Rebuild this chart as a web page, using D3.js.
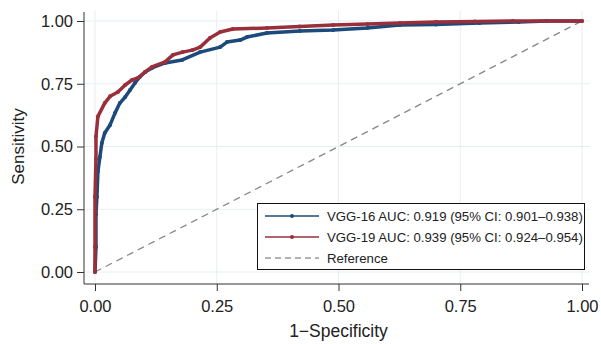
<!DOCTYPE html>
<html>
<head>
<meta charset="utf-8">
<script src="https://cdn.jsdelivr.net/npm/d3@7"></script>
<style>
  body { margin: 0; background: #fff; }
  text { font-family: "Liberation Sans", Arial, Helvetica, sans-serif; }
</style>
</head>
<body>
<div id="chart"></div>
<script>
const blue = '#1b4a7b'
const red = '#9a2f3c'

const ticks = [0, 0.25, 0.5, 0.75, 1]

const fpr16 = [0, 0.002, 0.002, 0.004, 0.006, 0.010, 0.014, 0.020, 0.031, 0.041, 0.051, 0.062, 0.072, 0.082, 0.092, 0.103, 0.117, 0.144, 0.179, 0.216, 0.257, 0.271, 0.298, 0.312, 0.353, 0.421, 0.489, 0.559, 0.626, 0.700, 0.790, 0.870, 0.928, 1]
const tpr16 = [0, 0.10, 0.23, 0.30, 0.40, 0.458, 0.514, 0.554, 0.586, 0.633, 0.673, 0.697, 0.725, 0.753, 0.777, 0.797, 0.813, 0.833, 0.845, 0.876, 0.896, 0.916, 0.924, 0.936, 0.952, 0.960, 0.964, 0.972, 0.984, 0.986, 0.992, 0.996, 1.0, 1]

const fpr19 = [0, 0, 0, 0.002, 0.002, 0.006, 0.020, 0.031, 0.047, 0.062, 0.076, 0.088, 0.103, 0.117, 0.144, 0.160, 0.180, 0.200, 0.216, 0.236, 0.257, 0.283, 0.353, 0.420, 0.489, 0.560, 0.626, 0.700, 0.780, 0.858, 1]
const tpr19 = [0, 0.10, 0.30, 0.45, 0.54, 0.620, 0.673, 0.700, 0.717, 0.745, 0.765, 0.773, 0.797, 0.817, 0.837, 0.865, 0.876, 0.884, 0.896, 0.932, 0.956, 0.968, 0.972, 0.978, 0.984, 0.988, 0.992, 0.996, 0.998, 1.0, 1]

const legendLabels = [
  'VGG-16 AUC: 0.919 (95% CI: 0.901\u20130.938)',
  'VGG-19 AUC: 0.939 (95% CI: 0.924\u20130.954)',
  'Reference'
]

const series = [
  { fpr: fpr16, tpr: tpr16, color: blue },
  { fpr: fpr19, tpr: tpr19, color: red }
]

const width = 601
const height = 344

const svg = d3.select('#chart').append('svg')
  .attr('width', width)
  .attr('height', height)

const x = d3.scaleLinear().domain([0, 1]).range([95, 582])
const y = d3.scaleLinear().domain([0, 1]).range([272, 21])

const axisX = 84
const axisY = 284

// grid
svg.append('g').selectAll('line.v').data(ticks).join('line')
  .attr('x1', d => x(d)).attr('x2', d => x(d))
  .attr('y1', 11).attr('y2', axisY)
  .attr('stroke', '#e7eef2').attr('stroke-width', 1)
svg.append('g').selectAll('line.h').data(ticks).join('line')
  .attr('y1', d => y(d)).attr('y2', d => y(d))
  .attr('x1', axisX).attr('x2', 590)
  .attr('stroke', '#e7eef2').attr('stroke-width', 1)

const fmt = d3.format('.2f')

const gx = svg.append('g')
  .attr('transform', `translate(0,${axisY})`)
  .call(d3.axisBottom(x).tickValues(ticks).tickFormat(fmt).tickSize(7).tickPadding(9).tickSizeOuter(0))
gx.select('.domain').attr('d', `M${axisX},0H589`)

const gy = svg.append('g')
  .attr('transform', `translate(${axisX},0)`)
  .call(d3.axisLeft(y).tickValues(ticks).tickFormat(fmt).tickSize(7).tickPadding(4).tickSizeOuter(0))
gy.select('.domain').attr('d', `M0,12V${axisY}`)

svg.selectAll('.tick text').attr('font-size', 16.5).attr('fill', '#222')
  .attr('font-family', '"Liberation Sans", Arial, sans-serif')
svg.selectAll('.tick line, .domain').attr('stroke', '#333')

svg.append('text')
  .attr('x', (x(0) + x(1)) / 2).attr('y', 337)
  .attr('text-anchor', 'middle').attr('font-size', 17.5).attr('fill', '#222')
  .text('1\u2212Specificity')

svg.append('text')
  .attr('transform', `translate(24,${(y(0) + y(1)) / 2}) rotate(-90)`)
  .attr('text-anchor', 'middle').attr('font-size', 17).attr('fill', '#222')
  .text('Sensitivity')

// reference diagonal
svg.append('line')
  .attr('x1', x(0)).attr('y1', y(0)).attr('x2', x(1)).attr('y2', y(1))
  .attr('stroke', '#888').attr('stroke-width', 1.3).attr('stroke-dasharray', '7,5')

const line = d3.line()
  .x(d => x(d[0]))
  .y(d => y(d[1]))

series.forEach(s => {
  const pts = s.fpr.map((f, i) => [f, s.tpr[i]])
  svg.append('path')
    .datum(pts)
    .attr('fill', 'none')
    .attr('stroke', s.color)
    .attr('stroke-width', 3.5)
    .attr('stroke-linejoin', 'round')
    .attr('d', line)
  svg.append('g').selectAll('circle').data(pts).join('circle')
    .attr('cx', d => x(d[0])).attr('cy', d => y(d[1]))
    .attr('r', 2).attr('fill', s.color)
})

// legend
const lg = svg.append('g')
lg.append('rect')
  .attr('x', 257.5).attr('y', 203.5).attr('width', 327).attr('height', 66)
  .attr('fill', '#fff').attr('stroke', '#111').attr('stroke-width', 1)

const legendRows = [
  { color: blue, dash: null, marker: true },
  { color: red, dash: null, marker: true },
  { color: '#999', dash: '6,4', marker: false }
]
legendRows.forEach((r, i) => {
  const ly = 216 + i * 21
  lg.append('line')
    .attr('x1', 265).attr('x2', 319).attr('y1', ly).attr('y2', ly)
    .attr('stroke', r.color).attr('stroke-width', 1.4)
    .attr('stroke-dasharray', r.dash)
  if (r.marker) {
    lg.append('circle').attr('cx', 292).attr('cy', ly).attr('r', 2).attr('fill', r.color)
  }
  lg.append('text')
    .attr('x', 327).attr('y', ly + 4.5)
    .attr('font-size', 13.2).attr('fill', '#222')
    .text(legendLabels[i])
})
</script>
</body>
</html>
